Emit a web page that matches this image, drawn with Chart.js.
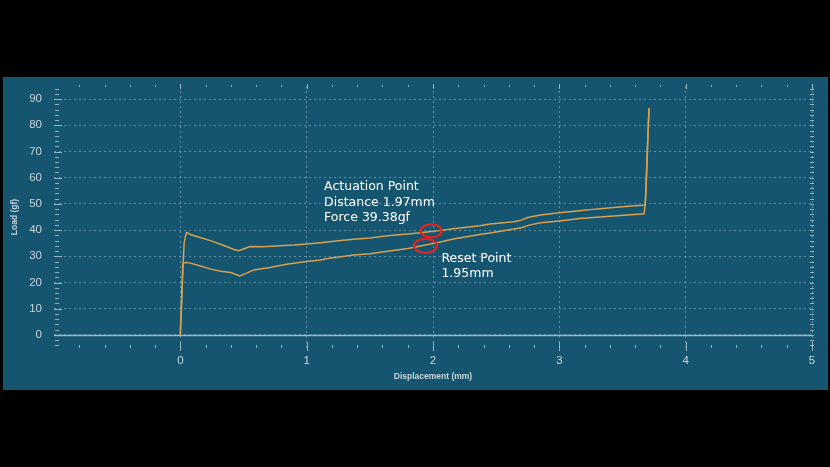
<!DOCTYPE html>
<html>
<head>
<meta charset="utf-8">
<title>Load vs Displacement</title>
<script src="https://cdn.jsdelivr.net/npm/chart.js@4.4.1/dist/chart.umd.min.js"></script>
<style>
  html, body {
    margin: 0;
    padding: 0;
    background: #000000;
    width: 830px;
    height: 467px;
    overflow: hidden;
  }
  .panel {
    position: absolute;
    left: 3px;
    top: 77px;
    width: 825px;
    height: 313px;
    background: #15556f;
  }
</style>
</head>
<body>
<div class="panel">
  <canvas id="forceChart"></canvas>
</div>
<script>
// Press stroke (upper curve)
const pressX = [0.00, 0.01, 0.02, 0.03, 0.04, 0.05, 0.08, 0.15, 0.25, 0.35, 0.42, 0.46, 0.50, 0.55, 0.65, 0.79,
  0.90, 1.00, 1.11, 1.25, 1.37, 1.50, 1.64, 1.80, 1.90, 1.97, 2.05, 2.16, 2.37, 2.45, 2.64, 2.70, 2.75,
  2.85, 3.00, 3.16, 3.30, 3.43, 3.55, 3.68, 3.69, 3.70, 3.71];
const pressY = [0, 12, 25, 35, 37.5, 39.1, 38.3, 37.3, 35.8, 34.0, 32.7, 32.1, 32.8, 33.7, 33.6, 34.0,
  34.3, 34.7, 35.2, 35.9, 36.5, 37.0, 37.8, 38.5, 39.0, 39.38, 39.8, 40.5, 41.7, 42.3, 43.2, 43.8, 44.8,
  45.8, 46.6, 47.4, 48.1, 48.6, 49.1, 49.6, 60, 75, 86.6];

// Release stroke (lower curve)
const releaseX = [0.00, 0.01, 0.02, 0.05, 0.08, 0.16, 0.24, 0.32, 0.40, 0.47, 0.52, 0.58, 0.71, 0.84, 1.00,
  1.11, 1.18, 1.37, 1.50, 1.64, 1.80, 1.90, 1.95, 2.05, 2.16, 2.37, 2.45, 2.64, 2.70, 2.76, 2.85,
  3.00, 3.16, 3.43, 3.67, 3.68, 3.71];
const releaseY = [0, 14, 27.4, 27.6, 27.4, 26.3, 25.1, 24.3, 23.8, 22.5, 23.5, 24.8, 25.7, 27.0, 28.0,
  28.6, 29.3, 30.5, 31.0, 31.9, 33.0, 33.9, 34.4, 35.4, 36.6, 38.3, 38.9, 40.4, 40.9, 41.9, 42.8,
  43.5, 44.4, 45.4, 46.2, 49.6, 86.6];

const xTickValues = [0, 1, 2, 3, 4, 5];
const yTickValues = [0, 10, 20, 30, 40, 50, 60, 70, 80, 90];

const lineColor = "#d9a04f";
const tickColor = "#c8d5dc";
const gridColor = "rgba(185, 210, 222, 0.45)";

function toPoints(xs, ys) {
  return xs.map((x, i) => ({ x: x, y: ys[i] }));
}

// Minor ticks, zero line, circles and labels
const decorPlugin = {
  id: "decor",
  beforeDatasetsDraw(chart) {
    const { ctx, chartArea, scales } = chart;
    const xs = scales.x;
    const ys = scales.y;
    ctx.save();
    ctx.strokeStyle = "rgba(175, 200, 212, 0.8)";
    ctx.lineWidth = 1;
    ctx.beginPath();
    // left and right y ticks
    for (let v = -4; v <= 94; v += 2) {
      const py = Math.round(ys.getPixelForValue(v)) + 0.5;
      const major = v % 10 === 0;
      ctx.moveTo(chartArea.left + (major ? 0 : 1), py);
      ctx.lineTo(chartArea.left + (major ? 8 : 5), py);
      ctx.moveTo(chartArea.right - 2, py);
      ctx.lineTo(chartArea.right + 2, py);
    }
    // top and bottom x ticks
    for (let i = -4; i <= 25; i++) {
      const v = i / 5;
      const px = Math.round(xs.getPixelForValue(v)) + 0.5;
      const major = i % 5 === 0;
      ctx.moveTo(px, chartArea.bottom - (major ? 6 : 3));
      ctx.lineTo(px, chartArea.bottom + (major ? 3 : 0));
      ctx.moveTo(px, chartArea.top - (major ? 2 : 1));
      ctx.lineTo(px, chartArea.top + (major ? 3 : 1));
    }
    ctx.stroke();

    // zero line
    const zy = Math.round(ys.getPixelForValue(0)) + 0.5;
    ctx.strokeStyle = "#9cb9c6";
    ctx.lineWidth = 1.5;
    ctx.beginPath();
    ctx.moveTo(chartArea.left, zy);
    ctx.lineTo(chartArea.right, zy);
    ctx.stroke();
    ctx.restore();
  },
  afterDatasetsDraw(chart) {
    const { ctx, scales } = chart;
    const ax = scales.x.getPixelForValue(1.985);
    const ay = scales.y.getPixelForValue(39.7);
    const rx = scales.x.getPixelForValue(1.94);
    const ry = scales.y.getPixelForValue(34.0);

    ctx.save();
    ctx.strokeStyle = "#dc2429";
    ctx.lineWidth = 2.2;
    ctx.beginPath();
    ctx.ellipse(ax, ay, 10.5, 6.5, 0, 0, Math.PI * 2);
    ctx.stroke();
    ctx.beginPath();
    ctx.ellipse(rx, ry, 11.5, 7, 0, 0, Math.PI * 2);
    ctx.stroke();

    ctx.fillStyle = "#ffffff";
    ctx.font = "12.5px 'DejaVu Sans'";
    ctx.textBaseline = "middle";
    ctx.textAlign = "left";
    ctx.fillText("Actuation Point", ax - 107, ay - 44);
    ctx.fillText("Distance 1.97mm", ax - 107, ay - 28.5);
    ctx.fillText("Force 39.38gf", ax - 107, ay - 13);
    ctx.fillText("Reset Point", rx + 16, ry + 13);
    ctx.fillText("1.95mm", rx + 16, ry + 28);
    ctx.restore();
  },
};

const ctx = document.getElementById("forceChart").getContext("2d");

new Chart(ctx, {
  type: "scatter",
  data: {
    datasets: [
      {
        label: "Press",
        data: toPoints(pressX, pressY),
        showLine: true,
        borderColor: lineColor,
        borderWidth: 1.5,
        pointRadius: 0,
        tension: 0,
      },
      {
        label: "Release",
        data: toPoints(releaseX, releaseY),
        showLine: true,
        borderColor: lineColor,
        borderWidth: 1.5,
        pointRadius: 0,
        tension: 0,
      },
    ],
  },
  options: {
    responsive: true,
    maintainAspectRatio: false,
    animation: false,
    layout: {
      padding: { top: 9, right: 16, left: 0, bottom: 0 },
    },
    plugins: {
      legend: { display: false },
      tooltip: { enabled: false },
    },
    scales: {
      x: {
        type: "linear",
        min: -1,
        max: 5,
        afterBuildTicks: (scale) => {
          scale.ticks = xTickValues.map((v) => ({ value: v }));
        },
        afterFit: (scale) => {
          scale.height = 42;
          scale.paddingLeft = 0;
          scale.paddingRight = 0;
        },
        grid: {
          color: gridColor,
          lineWidth: 1,
          drawTicks: false,
        },
        border: { display: false, dash: [2, 3] },
        ticks: {
          color: tickColor,
          padding: 6,
          font: { family: "'Liberation Sans', Arial", size: 11.5 },
        },
        title: {
          display: true,
          text: "Displacement (mm)",
          color: tickColor,
          padding: { top: 0, bottom: 8 },
          font: { family: "'Liberation Sans', Arial", size: 8.5, weight: "bold" },
        },
      },
      y: {
        type: "linear",
        min: -5,
        max: 95,
        afterBuildTicks: (scale) => {
          scale.ticks = yTickValues.map((v) => ({ value: v }));
        },
        afterFit: (scale) => {
          scale.width = 51;
          scale.paddingTop = 0;
          scale.paddingBottom = 0;
        },
        grid: {
          color: gridColor,
          lineWidth: 1,
          drawTicks: false,
        },
        border: { display: false, dash: [2, 3] },
        ticks: {
          color: tickColor,
          padding: 12,
          font: { family: "'Liberation Sans', Arial", size: 11.5 },
        },
        title: {
          display: true,
          text: "Load (gf)",
          color: tickColor,
          padding: { top: 7, bottom: 0 },
          font: { family: "'Liberation Sans', Arial", size: 8.5, weight: "bold" },
        },
      },
    },
  },
  plugins: [decorPlugin],
});
</script>
</body>
</html>
